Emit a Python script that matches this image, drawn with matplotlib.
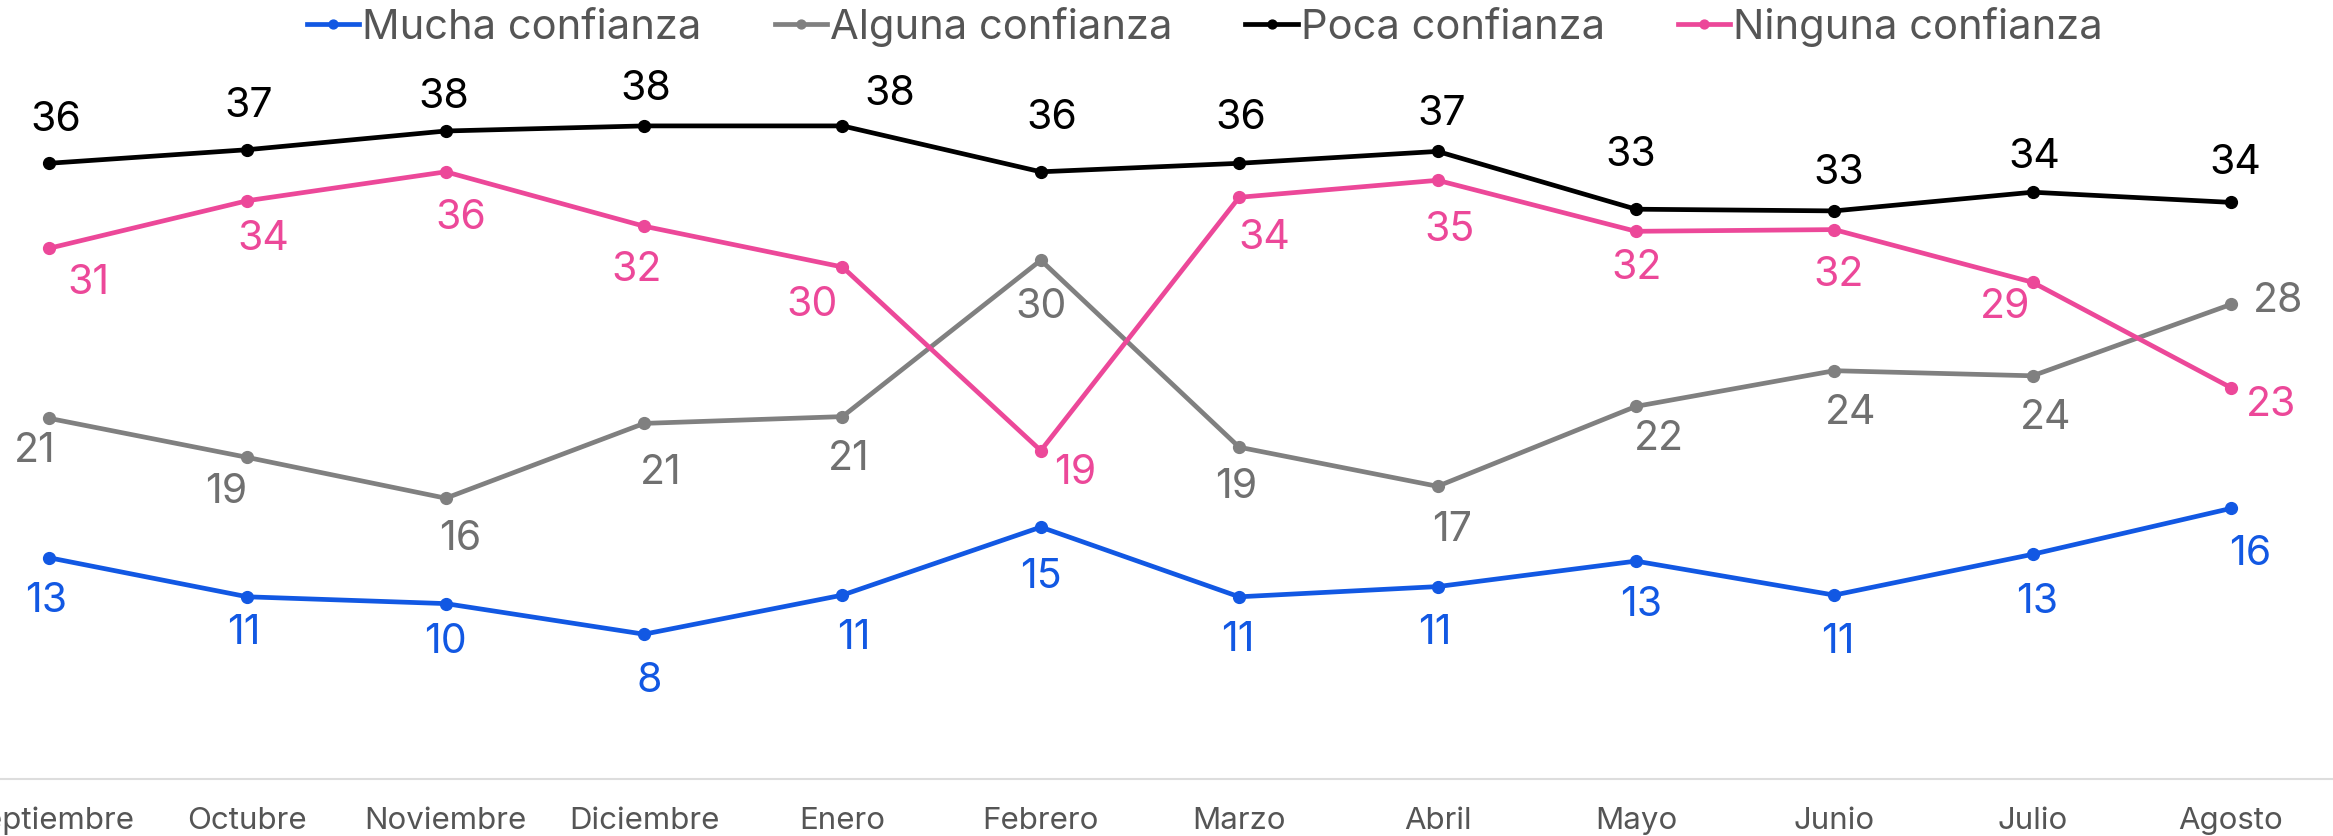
import matplotlib
matplotlib.use('Agg')
import matplotlib.pyplot as plt

plt.rcParams['font.family'] = ['Inter', 'DejaVu Sans']

meses = ['Septiembre', 'Octubre', 'Noviembre', 'Diciembre', 'Enero', 'Febrero',
         'Marzo', 'Abril', 'Mayo', 'Junio', 'Julio', 'Agosto']

mucha = [12.9, 10.6, 10.2, 8.4, 10.7, 14.7, 10.6, 11.2, 12.7, 10.7, 13.1, 15.8]
alguna = [21.1, 18.8, 16.4, 20.8, 21.2, 30.4, 19.4, 17.1, 21.8, 23.9, 23.6, 27.8]
poca = [36.1, 36.9, 38.0, 38.3, 38.3, 35.6, 36.1, 36.8, 33.4, 33.3, 34.4, 33.8]
ninguna = [31.1, 33.9, 35.6, 32.4, 30.0, 19.2, 34.1, 35.1, 32.1, 32.2, 29.1, 22.9]

series = [
    ('Mucha confianza', mucha, '#1258e3', '#1258e3'),
    ('Alguna confianza', alguna, '#808080', '#707070'),
    ('Poca confianza', poca, '#000000', '#000000'),
    ('Ninguna confianza', ninguna, '#ec4899', '#ec4899'),
]

# label offsets in pixels (dx, dy up)
offsets = {
    'Mucha confianza': [(-3, -43), (-4, -36), (0, -38), (5, -47), (11, -43), (0, -50),
                        (-1, -43), (-3, -46), (5, -44), (4, -47), (4, -48), (19, -46)],
    'Alguna confianza': [(-14, -33), (-21, -35), (14, -41), (17, -50), (6, -42), (0, -47),
                         (-3, -40), (15, -44), (23, -33), (16, -42), (13, -42), (47, 3)],
    'Poca confianza': [(7, 43), (1, 44), (-2, 34), (2, 37), (47, 32), (11, 54),
                       (2, 45), (4, 37), (-5, 54), (4, 38), (2, 35), (4, 39)],
    'Ninguna confianza': [(39, -35), (16, -38), (15, -46), (-8, -44), (-30, -38), (34, -22),
                          (25, -41), (12, -50), (1, -37), (4, -45), (-28, -25), (40, -17)],
}

W, H = 2333, 836
fig = plt.figure(figsize=(W / 100, H / 100), dpi=100)
axis_y = 779
ax = fig.add_axes([0, (H - axis_y) / H, 1, axis_y / H])

x = list(range(len(meses)))
handles = []
for name, vals, col, tcol in series:
    ln, = ax.plot(x, vals, color=col, lw=3.4, marker='o', markersize=8.5,
                  solid_joinstyle='round', label=name, clip_on=False)
    handles.append(ln)
    for i, v in enumerate(vals):
        dx, dy = offsets[name][i]
        ax.annotate(str(int(round(v))), (i, v), xytext=(dx, dy),
                    textcoords='offset pixels', ha='center', va='center',
                    fontsize=29.5, color=tcol)

px_per_unit = 17.0
zero_px = 777
ax.set_xlim(-49 / 198.36, 11 + (W - 2231) / 198.36)
ax.set_ylim((zero_px - axis_y) / px_per_unit, zero_px / px_per_unit)

for s in ['top', 'left', 'right']:
    ax.spines[s].set_visible(False)
ax.spines['bottom'].set_color('#dddddd')
ax.spines['bottom'].set_linewidth(1.5)
ax.set_yticks([])
ax.set_xticks(x)
ax.set_xticklabels(meses, fontsize=22.5, color='#555555')
ax.tick_params(axis='x', length=0, pad=20)

fig.legend(handles=handles, loc='center', bbox_to_anchor=(1205 / W, 1 - 27 / H),
           ncol=4, frameon=False, fontsize=30, labelcolor='#555555',
           handlelength=1.25, handletextpad=0.08, columnspacing=1.75,
           markerscale=0.75)

fig.savefig('out.png', dpi=100)
